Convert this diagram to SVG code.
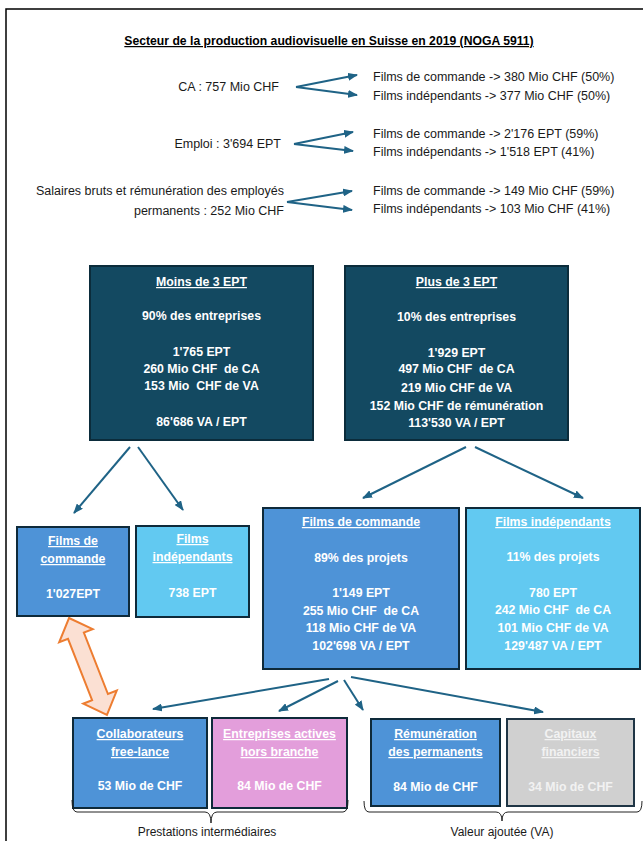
<svg xmlns="http://www.w3.org/2000/svg" width="643" height="841" viewBox="0 0 643 841">
<style>
.t{font-family:"Liberation Sans",Arial,sans-serif;font-size:12.5px;fill:#1a1a1a}
.r{text-anchor:end}
.ttl{font-family:"Liberation Sans",Arial,sans-serif;font-size:12.2px;font-weight:bold;fill:#000;text-anchor:middle;text-decoration:underline}
.b{font-family:"Liberation Sans",Arial,sans-serif;font-size:12.3px;font-weight:bold;fill:#fff;text-anchor:middle}
.u{text-decoration:underline}
.g{fill:#f2f2f2}
.dark{fill:#134961;stroke:#0b2c3b;stroke-width:2}
.mid{fill:#4e93d7;stroke:#0e2a3a;stroke-width:2}
.light{fill:#62c9f1;stroke:#0e2a3a;stroke-width:2}
.pink{fill:#e39edb;stroke:#0e2a3a;stroke-width:2}
.gray{fill:#d0d0d0;stroke:#1f3545;stroke-width:2}
.c{stroke:#1f6386;stroke-width:2;fill:none;marker-end:url(#ah)}
.br{stroke:#222;stroke-width:1;fill:none}
</style>
<defs>
<marker id="ah" viewBox="0 0 10 8" refX="9" refY="4" markerWidth="10" markerHeight="8" markerUnits="userSpaceOnUse" orient="auto"><path d="M0,0 L10,4 L0,8 z" fill="#1f6386"/></marker>
</defs>
<path d="M6,841 L6,9 L643,9" fill="none" stroke="#000" stroke-width="1.5"/>
<text class="ttl" x="329" y="45">Secteur de la production audiovisuelle en Suisse en 2019 (NOGA 5911)</text>

<g id="summary">
<text class="t r" x="279" y="91">CA : 757 Mio CHF</text>
<text class="t" x="373" y="81">Films de commande -&gt; 380 Mio CHF (50%)</text>
<text class="t" x="373" y="100">Films indépendants -&gt; 377 Mio CHF (50%)</text>
<text class="t r" x="281" y="148">Emploi : 3'694 EPT</text>
<text class="t" x="373" y="138">Films de commande -&gt; 2'176 EPT (59%)</text>
<text class="t" x="373" y="156">Films indépendants -&gt; 1'518 EPT (41%)</text>
<text class="t r" x="284" y="195">Salaires bruts et rémunération des employés</text>
<text class="t r" x="284" y="215">permanents : 252 Mio CHF</text>
<text class="t" x="373" y="195">Films de commande -&gt; 149 Mio CHF (59%)</text>
<text class="t" x="373" y="213">Films indépendants -&gt; 103 Mio CHF (41%)</text>
</g>

<g id="moins3">
<rect class="dark" x="90" y="266" width="223" height="174"/>
<text class="b u" x="201.5" y="286">Moins de 3 EPT</text>
<text class="b" x="201.5" y="320">90% des entreprises</text>
<text class="b" x="201.5" y="356">1'765 EPT</text>
<text class="b" x="201.5" y="373" xml:space="preserve">260 Mio CHF  de CA</text>
<text class="b" x="201.5" y="390" xml:space="preserve">153 Mio  CHF de VA</text>
<text class="b" x="201.5" y="426">86'686 VA / EPT</text>
</g>

<g id="plus3">
<rect class="dark" x="345" y="266" width="223" height="174"/>
<text class="b u" x="456.5" y="286">Plus de 3 EPT</text>
<text class="b" x="456.5" y="321">10% des entreprises</text>
<text class="b" x="456.5" y="357">1'929 EPT</text>
<text class="b" x="456.5" y="373" xml:space="preserve">497 Mio CHF  de CA</text>
<text class="b" x="456.5" y="392">219 Mio CHF de VA</text>
<text class="b" x="456.5" y="410">152 Mio CHF de rémunération</text>
<text class="b" x="456.5" y="427">113'530 VA / EPT</text>
</g>

<g id="small-commande">
<rect class="mid" x="17" y="527" width="112" height="89"/>
<text class="b u" x="73" y="545">Films de</text>
<text class="b u" x="73" y="563">commande</text>
<text class="b" x="73" y="598">1'027EPT</text>
</g>

<g id="small-indep">
<rect class="light" x="136" y="526" width="113" height="91"/>
<text class="b u" x="192.5" y="543">Films</text>
<text class="b u" x="192.5" y="561">indépendants</text>
<text class="b" x="192.5" y="597">738 EPT</text>
</g>

<g id="big-commande">
<rect class="mid" x="263" y="508" width="196" height="161"/>
<text class="b u" x="361" y="526">Films de commande</text>
<text class="b" x="361" y="562">89% des projets</text>
<text class="b" x="361" y="597">1'149 EPT</text>
<text class="b" x="361" y="615" xml:space="preserve">255 Mio CHF  de CA</text>
<text class="b" x="361" y="632">118 Mio CHF de VA</text>
<text class="b" x="361" y="650">102'698 VA / EPT</text>
</g>

<g id="big-indep">
<rect class="light" x="466" y="508" width="174" height="161"/>
<text class="b u" x="553" y="526">Films indépendants</text>
<text class="b" x="553" y="561">11% des projets</text>
<text class="b" x="553" y="597">780 EPT</text>
<text class="b" x="553" y="614" xml:space="preserve">242 Mio CHF  de CA</text>
<text class="b" x="553" y="632">101 Mio CHF de VA</text>
<text class="b" x="553" y="650">129'487 VA / EPT</text>
</g>

<g id="freelance">
<rect class="mid" x="73" y="718" width="134" height="90"/>
<text class="b u" x="140" y="738">Collaborateurs</text>
<text class="b u" x="140" y="756">free-lance</text>
<text class="b" x="140" y="790">53 Mio de CHF</text>
</g>

<g id="hors-branche">
<rect class="pink" x="212" y="718" width="135" height="90"/>
<text class="b u" x="279.5" y="738">Entreprises actives</text>
<text class="b u" x="279.5" y="756">hors branche</text>
<text class="b" x="279.5" y="790">84 Mio de CHF</text>
</g>

<g id="remuneration">
<rect class="mid" x="371" y="719" width="129" height="87"/>
<text class="b u" x="435.5" y="738">Rémunération</text>
<text class="b u" x="435.5" y="756">des permanents</text>
<text class="b" x="435.5" y="791">84 Mio de CHF</text>
</g>

<g id="capitaux">
<rect class="gray" x="507" y="719" width="127" height="87"/>
<text class="b u g" x="570.5" y="738">Capitaux</text>
<text class="b u g" x="570.5" y="756">financiers</text>
<text class="b g" x="570.5" y="791">34 Mio de CHF</text>
</g>

<g id="connectors">
<line class="c" x1="296" y1="87" x2="357" y2="75"/>
<line class="c" x1="296" y1="87" x2="357" y2="95"/>
<line class="c" x1="294" y1="144" x2="353" y2="132"/>
<line class="c" x1="294" y1="144" x2="353" y2="151"/>
<line class="c" x1="287" y1="202" x2="352" y2="191"/>
<line class="c" x1="287" y1="202" x2="352" y2="210"/>
<line class="c" x1="130" y1="447" x2="74" y2="513"/>
<line class="c" x1="138" y1="447" x2="183" y2="510"/>
<line class="c" x1="466" y1="447" x2="363" y2="498"/>
<line class="c" x1="475" y1="447" x2="583" y2="498"/>
<line class="c" x1="329" y1="679" x2="153" y2="709"/>
<line class="c" x1="338" y1="681" x2="279" y2="711"/>
<line class="c" x1="344" y1="680" x2="363" y2="710"/>
<line class="c" x1="351" y1="677" x2="543" y2="712"/>
<polygon transform="translate(69,618) rotate(68.6)" points="0,0 19,-18 19,-8.5 85,-8.5 85,-18 104,0 85,18 85,8.5 19,8.5 19,18" fill="#fbe0d3" stroke="#ed7d31" stroke-width="2" stroke-linejoin="miter"/>
</g>

<g id="braces">
<path class="br" d="M72,800 Q72,812 77,812 L205,812 Q211,812 211,823 Q211,812 217,812 L343,812 Q348,812 348,800"/>
<text class="t" x="207" y="836" text-anchor="middle" style="font-size:12px">Prestations intermédiaires</text>
<path class="br" d="M364,801 Q364,812 369,812 L496,812 Q502,812 502,821 Q502,812 508,812 L637,812 Q642,812 642,801"/>
<text class="t" x="502" y="836" text-anchor="middle" style="font-size:12px">Valeur ajoutée (VA)</text>
</g>
</svg>
